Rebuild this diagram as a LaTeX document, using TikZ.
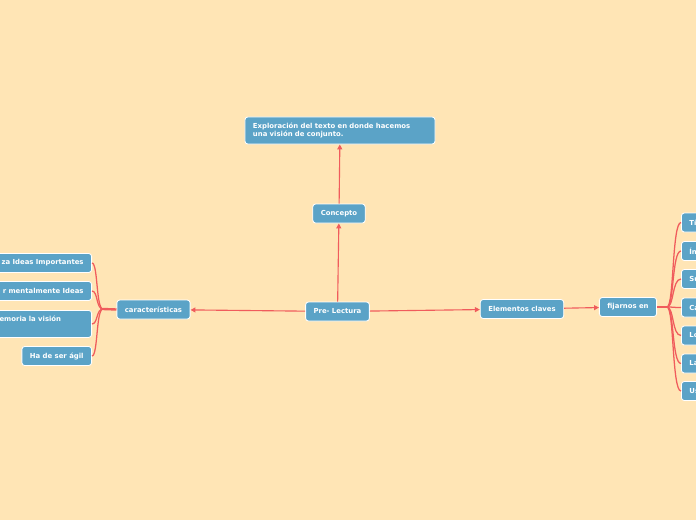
\documentclass[tikz,border=0pt]{standalone}
\usepackage{fontspec}
\usetikzlibrary{arrows.meta,positioning}
\newfontfamily\mapfont{DejaVu Sans}
\definecolor{MapPaper}{RGB}{255,229,181}
\definecolor{MapBlue}{RGB}{91,163,199}
\definecolor{MapRed}{RGB}{240,92,92}

\begin{document}
\begin{tikzpicture}[
  x=0.025cm, y=-0.025cm,
  topic/.style={draw=white, line width=0.6pt, rounded corners=2pt, fill=MapBlue,
    text=white, font=\mapfont\bfseries\fontsize{4.9}{6}\selectfont,
    inner xsep=0.2cm, inner ysep=0pt, minimum height=0.475cm},
  cutleft/.style={topic, anchor=east, align=right, text width=2.6cm},
  cutright/.style={topic, anchor=west, align=left, text width=1.2cm},
  link/.style={-{Triangle[length=3.5pt,width=3.5pt]}, line width=0.8pt, draw=MapRed},
  fan/.style={line width=0.9pt, draw=MapRed},
  stub/.style={line width=1.7pt, draw=MapRed}
]
\fill[MapPaper] (0,0) rectangle (696,520);
\useasboundingbox (0,0) rectangle (696,520);
\clip (0,0) rectangle (696,520);

\node[topic] (pre) at (337.5,311.5) {Pre- Lectura};
\node[topic] (concepto) at (339,213.5) {Concepto};
\node[topic, align=left, text width=4.35cm, minimum height=0.675cm] (explor) at (340,130.5)
  {Exploración del texto en donde hacemos\\una visión de conjunto.};
\node[topic] (elementos) at (522,309) {Elementos claves};
\node[topic] (fijarnos) at (628,307) {fijarnos en};
\node[topic] (caract) at (153.5,309.5) {características};

% left branch
\coordinate (lj) at (103,309);
\node[cutleft] (ideas) at (92,263) {za Ideas Importantes};
\node[cutleft] (mental) at (92,291) {r mentalmente Ideas};
\node[topic, anchor=north east, align=left, text width=2.1cm, minimum height=0.675cm] (memoria) at (92,310)
  {emoria la visión\\\strut};
\node[topic, anchor=east] (agil) at (92,356) {Ha de ser ágil};

% right branch
\coordinate (rj) at (667,307);
\node[cutright] (r1) at (681,222.5) {Tí};
\node[cutright] (r2) at (681,251) {Ín};
\node[cutright] (r3) at (681,279) {Su};
\node[cutright] (r4) at (681,307.5) {Ca};
\node[cutright] (r5) at (681,335.5) {Lo};
\node[cutright] (r6) at (681,363.5) {La};
\node[cutright] (r7) at (681,391) {Us};

\draw[link] (pre) -- (concepto);
\draw[link] (concepto) -- (explor);
\draw[link] (pre) -- (caract);
\draw[link] (pre) -- (elementos);
\draw[link] (elementos) -- (fijarnos);

\draw[stub] (caract.west) -- (lj);
\foreach \n in {ideas,mental,memoria,agil}
  \draw[fan] (lj) .. controls ([xshift=-0.175cm]lj) and ([xshift=0.15cm]\n.east) .. (\n.east);

\draw[stub] (fijarnos.east) -- (rj);
\foreach \n in {r1,r2,r3,r4,r5,r6,r7}
  \draw[fan] (rj) .. controls ([xshift=0.175cm]rj) and ([xshift=-0.225cm]\n.west) .. (\n.west);
\end{tikzpicture}
\end{document}
